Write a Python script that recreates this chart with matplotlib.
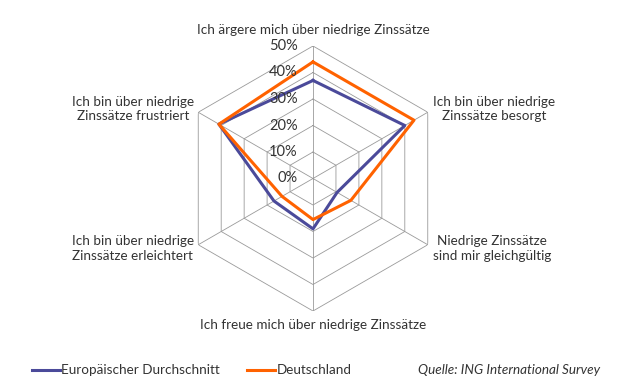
import numpy as np
import matplotlib
matplotlib.use("Agg")
import matplotlib.pyplot as plt
from matplotlib.lines import Line2D

plt.rcParams['font.family'] = ['Lato', 'DejaVu Sans']

categories = ["Ich ärgere mich über niedrige Zinssätze",
              "Ich bin über niedrige\nZinssätze besorgt",
              "Niedrige Zinssätze\nsind mir gleichgültig",
              "Ich freue mich über niedrige Zinssätze",
              "Ich bin über niedrige\nZinssätze erleichtert",
              "Ich bin über niedrige\nZinssätze frustriert"]
europa = [37, 40, 10.5, 19, 17, 41]
deutschland = [44, 44, 16.5, 15.5, 13.5, 41]
ticks = [0, 10, 20, 30, 40, 50]
tick_labels = ["0%", "10%", "20%", "30%", "40%", "50%"]

blue = "#4b4a9a"
orange = "#ff6200"
grid_col = "#9a9a9a"
txt = "#333333"

W, H = 621, 383
fig = plt.figure(figsize=(W / 100, H / 100), dpi=100)

cx, cy, rad = 313, 178.5, 132.5
ax = fig.add_axes([(cx - rad) / W, (H - cy - rad) / H, 2 * rad / W, 2 * rad / H],
                  projection='polar')
ax.set_theta_zero_location('N')
ax.set_theta_direction(-1)
ax.set_ylim(0, 50)
ax.grid(False)
ax.spines['polar'].set_visible(False)
ax.set_xticks([])
ax.set_yticks([])
ax.patch.set_alpha(0)

n = len(categories)
theta = np.linspace(0, 2 * np.pi, n, endpoint=False)
closed = np.append(theta, theta[0])

# hexagon rings and spokes
for r in ticks[1:]:
    ax.plot(closed, [r] * (n + 1), color=grid_col, lw=0.6, zorder=1)
for t in theta:
    ax.plot([t, t], [0, 50], color=grid_col, lw=0.6, zorder=1)

ax.plot(closed, europa + europa[:1], color=blue, lw=2.2, zorder=3)
ax.plot(closed, deutschland + deutschland[:1], color=orange, lw=2.2, zorder=4)

# radial labels to the left of the top spoke
for r, lab in zip(ticks, tick_labels):
    ax.annotate(lab, xy=(0, r), xytext=(-11, 0), textcoords='offset points',
                ha='right', va='center', fontsize=10.5, color=txt, zorder=5)

# category labels
lab_pos = [(313, 30, 'center'), (433, 109, 'left'), (433, 248.5, 'left'),
           (313, 325, 'center'), (194, 248.5, 'right'), (194, 109, 'right')]
for cat, (px, py, ha) in zip(categories, lab_pos):
    fig.text(px / W, 1 - py / H, cat, ha=ha, va='center', ma='center',
             fontsize=9.7, color=txt, linespacing=1.25)

# legend row
ly = 1 - 370 / H
fig.add_artist(Line2D([32 / W, 60 / W], [ly, ly], color=blue, lw=2.2))
fig.text(61 / W, ly, "Europäischer Durchschnitt", ha='left', va='center',
         fontsize=9.7, color=txt)
fig.add_artist(Line2D([247 / W, 275 / W], [ly, ly], color=orange, lw=2.2))
fig.text(277 / W, ly, "Deutschland", ha='left', va='center', fontsize=9.7, color=txt)
fig.text(600 / W, ly, "Quelle: ING International Survey", ha='right', va='center',
         fontsize=9.7, color=txt, style='italic')

fig.savefig("out.png", dpi=100)
